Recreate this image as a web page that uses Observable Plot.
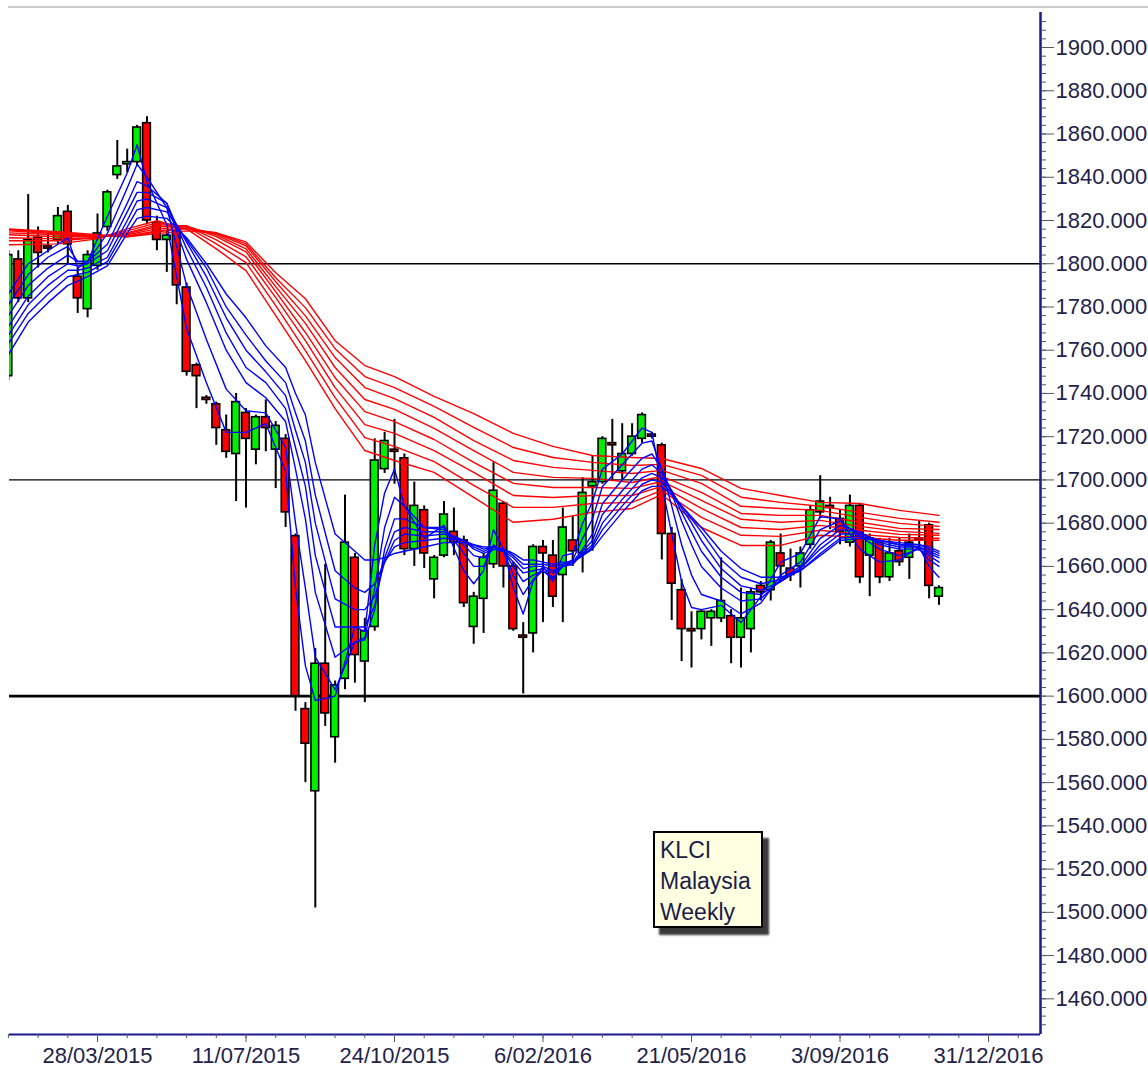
<!DOCTYPE html>
<html>
<head>
<meta charset="utf-8">
<script src="https://cdn.jsdelivr.net/npm/d3@7"></script>
<script src="https://cdn.jsdelivr.net/npm/@observablehq/plot@0.6"></script>
<style>
  html, body { margin: 0; padding: 0; background: #fff; }
  #wrap { position: relative; width: 1148px; height: 1068px; overflow: hidden;
          font-family: "Liberation Sans", Arial, sans-serif; }
  #chart { position: absolute; left: 0; top: 0; }
  #topline { position: absolute; left: 8px; right: 0; top: 6px; height: 2px; background: #cccccc; }
  #note { position: absolute; left: 653px; top: 831px; width: 110px; height: 97px; overflow: hidden;
          box-sizing: border-box; background: #ffffe1; border: 2px solid #000;
          box-shadow: 6px 7px 2px #3a3a3a; padding: 2px 0 0 5px;
          font-size: 23px; line-height: 31px; color: #1c1c48; }
</style>
</head>
<body>
<div id="wrap">
  <div id="chart"></div>
  <div id="topline"></div>
  <div id="note">KLCI<br>Malaysia<br>Weekly</div>
</div>
<script>
// ---- Weekly candles (bar index 0 = week of 24/01/2015) ----
const open  = [1748,1802,1784,1812,1808,1811,1824,1794,1779,1799,1817,1841,1846,1847,1865,1819,1811,1815,1789,1753,
               1738,1735,1723,1712,1731,1714,1729,1714,1719,1674,1594,1556,1615,1581,1608,1664,1616,1632,1705,1714,
               1710,1668,1686,1654,1665,1676,1672,1632,1645,1661,1689,1660,1628,1629,1669,1665,1656,1672,1666,1697,
               1699,1717,1704,1712,1719,1721,1716,1675,1649,1631,1631,1636,1636,1637,1627,1631,1651,1649,1666,1659,
               1660,1670,1685,1688,1682,1671,1688,1665,1671,1655,1667,1664,1673,1679,1646];
const high  = [1806,1806,1832,1817,1814,1826,1827,1798,1806,1823,1834,1857,1853,1864,1868,1822,1815,1817,1791,1754,
               1739,1736,1730,1740,1733,1730,1737,1727,1721,1675,1597,1622,1661,1607,1693,1666,1636,1719,1722,1728,
               1712,1699,1688,1665,1690,1687,1674,1648,1666,1708,1690,1662,1634,1670,1672,1672,1687,1683,1701,1711,
               1720,1728,1726,1726,1731,1722,1717,1678,1654,1639,1640,1640,1664,1640,1650,1650,1653,1672,1675,1668,
               1669,1688,1702,1692,1686,1693,1689,1675,1673,1673,1673,1675,1681,1680,1651];
const low   = [1746,1782,1782,1798,1805,1809,1800,1777,1775,1797,1815,1839,1842,1845,1818,1806,1796,1781,1748,1733,
               1735,1716,1710,1690,1687,1707,1713,1696,1678,1593,1560,1502,1586,1569,1603,1606,1597,1630,1703,1698,
               1665,1660,1659,1645,1664,1665,1641,1624,1629,1659,1650,1630,1601,1620,1634,1641,1634,1660,1657,1667,
               1698,1700,1700,1711,1717,1719,1663,1635,1616,1613,1626,1623,1634,1615,1613,1620,1644,1644,1653,1653,
               1650,1668,1682,1677,1670,1669,1652,1646,1652,1653,1660,1654,1667,1645,1642];
const close = [1804,1784,1811,1805,1807,1822,1809,1784,1804,1814,1833,1845,1847,1863,1820,1811,1813,1790,1750,1748,
               1737,1724,1713,1736,1719,1729,1724,1725,1685,1600,1578,1615,1592,1605,1671,1619,1630,1709,1718,1713,
               1668,1688,1666,1664,1684,1671,1643,1646,1664,1695,1660,1631,1627,1669,1666,1646,1678,1667,1694,1699,
               1719,1716,1712,1720,1730,1720,1675,1652,1631,1630,1639,1639,1644,1627,1636,1648,1648,1671,1660,1656,
               1666,1686,1690,1687,1676,1688,1655,1673,1655,1666,1662,1671,1672,1651,1650];

// ---- Short-term moving averages (blue), read at these bar indices ----
const blueIdx = [0,2,4,6,7,8,10,12,13,14,16,18,20,22,24,26,28,29,30,31,33,35,36,37,38,39,40,42,44,46,
                 47,48,49,50,51,52,53,54,55,56,57,58,59,60,62,64,65,66,67,68,69,70,72,74,76,78,80,82,84,86,
                 88,90,92,93,94];
const blue1 = [1786,1800,1806,1812,1798,1801,1822,1842,1855,1838,1818,1770,1745,1722,1722,1726,1704,1650,1614,1598,
               1600,1632,1630,1670,1694,1705,1688,1673,1679,1658,1652,1658,1677,1668,1650,1638,1653,1660,1653,1665,
               1666,1680,1690,1705,1712,1724,1722,1698,1675,1653,1641,1640,1642,1634,1646,1662,1666,1683,1682,1668,
               1662,1663,1669,1660,1655];
const blue2 = [1781,1795,1803,1808,1801,1801,1814,1835,1846,1840,1826,1790,1765,1742,1732,1731,1715,1680,1650,1618,
               1603,1625,1627,1650,1678,1692,1688,1678,1678,1666,1660,1660,1670,1667,1656,1647,1654,1658,1654,1661,
               1663,1673,1682,1697,1707,1717,1718,1705,1688,1670,1656,1647,1644,1638,1643,1656,1662,1677,1681,1674,
               1668,1665,1668,1663,1660];
const blue3 = [1776,1790,1798,1804,1801,1801,1809,1828,1838,1836,1828,1802,1782,1760,1745,1738,1727,1705,1682,1648,
               1618,1625,1626,1640,1668,1682,1682,1678,1677,1670,1665,1664,1668,1667,1660,1653,1656,1658,1655,1660,
               1662,1668,1675,1689,1700,1710,1712,1705,1694,1681,1670,1660,1650,1644,1645,1654,1660,1673,1679,1676,
               1670,1668,1668,1665,1662];
const blue4 = [1771,1785,1794,1800,1799,1800,1806,1824,1833,1833,1828,1807,1789,1768,1752,1745,1733,1715,1697,1665,
               1632,1632,1632,1642,1664,1676,1678,1676,1676,1672,1668,1666,1668,1667,1662,1657,1658,1659,1657,1660,
               1661,1667,1672,1684,1695,1705,1707,1703,1695,1685,1676,1667,1655,1648,1647,1653,1659,1670,1677,1676,
               1671,1669,1669,1666,1664];
const blue5 = [1767,1781,1790,1797,1797,1798,1803,1820,1829,1830,1826,1810,1794,1775,1760,1750,1739,1723,1708,1680,
               1645,1640,1640,1646,1662,1672,1675,1674,1675,1672,1669,1667,1669,1667,1664,1659,1660,1660,1658,1660,
               1661,1666,1670,1680,1691,1701,1703,1701,1695,1687,1680,1672,1659,1651,1649,1653,1659,1668,1675,1675,
               1672,1670,1669,1667,1665];
const blue6 = [1763,1777,1786,1794,1795,1796,1801,1817,1825,1826,1824,1811,1798,1780,1767,1755,1745,1731,1718,1693,
               1658,1650,1648,1652,1662,1669,1671,1672,1673,1672,1670,1668,1669,1668,1665,1661,1661,1661,1660,1661,
               1662,1665,1669,1677,1688,1698,1700,1699,1694,1688,1682,1676,1663,1655,1652,1654,1658,1666,1673,1674,
               1672,1670,1670,1668,1666];
const blue7 = [1758,1773,1782,1790,1792,1794,1799,1814,1821,1822,1821,1812,1800,1786,1775,1762,1752,1740,1730,1708,
               1675,1667,1663,1663,1664,1666,1667,1669,1671,1671,1670,1669,1669,1668,1666,1663,1663,1662,1661,1662,
               1662,1665,1668,1674,1685,1695,1697,1697,1693,1688,1683,1678,1667,1659,1655,1655,1658,1665,1672,1673,
               1672,1671,1670,1669,1667];

// ---- Long-term moving averages (red), read at these bar indices ----
const redIdx = [0,5,9,12,15,18,21,24,27,30,33,36,39,43,47,51,55,59,63,66,70,74,78,82,86,90,94];
const red1 = [1808.8,1809.2,1811.5,1816.1,1819.9,1816.1,1806.9,1796.8,1776.0,1755.2,1733.0,1713.6,1709.0,1703.5,1691.9,1680.4,1681.8,1685.0,1686.8,1693.3,1678.0,1669.7,1669.7,1674.4,1673.4,1672.1,1672.1];
const red2 = [1810.6,1810.6,1812.0,1815.2,1818.9,1817.1,1809.2,1800.5,1780.6,1759.8,1738.1,1719.6,1715.5,1708.5,1697.5,1687.3,1687.3,1689.1,1689.6,1695.2,1682.7,1674.4,1673.9,1676.7,1674.8,1673.4,1673.0];
const red3 = [1812.0,1811.5,1812.0,1814.3,1818.0,1817.5,1811.0,1803.2,1784.3,1764.4,1742.7,1725.6,1721.5,1713.6,1703.5,1692.8,1691.9,1692.8,1692.8,1697.0,1686.8,1678.0,1677.1,1679.0,1676.7,1674.8,1674.4];
const red4 = [1813.4,1812.5,1812.5,1813.9,1817.1,1817.5,1812.5,1805.5,1787.1,1768.2,1747.3,1731.6,1727.0,1718.7,1708.1,1698.4,1696.5,1696.5,1696.1,1699.3,1690.5,1681.8,1680.4,1681.3,1678.5,1676.2,1675.3];
const red5 = [1814.3,1813.4,1812.5,1813.4,1816.1,1817.1,1813.4,1806.9,1789.4,1772.4,1752.0,1737.2,1732.6,1723.8,1713.6,1703.5,1701.2,1700.7,1698.8,1701.6,1694.2,1684.5,1683.6,1683.6,1680.4,1677.6,1677.1];
const red6 = [1815.2,1813.9,1812.9,1812.9,1815.2,1816.6,1813.9,1808.3,1791.7,1775.9,1756.6,1742.7,1737.6,1728.9,1718.2,1709.0,1705.8,1704.4,1703.0,1704.4,1698.4,1687.8,1686.8,1685.9,1682.7,1679.9,1678.5];
const red7 = [1815.7,1814.3,1812.9,1812.5,1814.8,1816.1,1814.3,1809.2,1793.5,1779.7,1760.7,1747.8,1742.7,1734.0,1724.3,1715.0,1710.4,1708.1,1706.7,1707.2,1702.1,1692.0,1689.6,1687.8,1685.0,1682.2,1680.4];
const red8 = [1816.1,1814.8,1813.4,1812.5,1813.9,1815.2,1814.3,1810.1,1795.8,1783.8,1764.4,1752.9,1747.8,1738.6,1730.7,1721.5,1715.5,1711.3,1710.4,1709.9,1705.3,1696.1,1692.8,1689.6,1689.1,1685.9,1683.6];

// ---- Reference levels and axes ----
const levels = [1800, 1700, 1600];
const levelWidths = [1.3, 1.3, 2.6];
const xTickIdx = [9, 24, 39, 54, 69, 84, 99];
const xTickLabels = ["28/03/2015", "11/07/2015", "24/10/2015", "6/02/2016", "21/05/2016", "3/09/2016", "31/12/2016"];
const xMinorIdx = d3.range(0, 104, 3);
const yMajor = d3.range(1460, 1901, 20);
const yMinor = d3.range(1448, 1916, 4);
const xDomain = [0.111, 104.25];
const yDomain = [1443.5, 1916.2];

const candles = open.map((o, i) => ({i, o, h: high[i], l: low[i], c: close[i]}));
const series = (idx, vals) => idx.map((x, k) => ({x, y: vals[k]}));

const navy = "#1a1a8c";
const tickCol = "#555566";
const labelCol = "#23234a";

const chart = Plot.plot({
  width: 1148,
  height: 1068,
  marginTop: 12,
  marginBottom: 34,
  marginLeft: 9,
  marginRight: 108,
  x: {type: "linear", domain: xDomain},
  y: {type: "linear", domain: yDomain},
  color: {type: "identity"},
  style: {fontFamily: "'Liberation Sans', Arial, sans-serif", background: "transparent", overflow: "visible"},
  marks: [
    Plot.ruleY(levels, {y: d => d, stroke: "#000", strokeWidth: (d, i) => levelWidths[i]}),
    Plot.ruleX(candles, {x: "i", y1: "l", y2: "h", stroke: "#000", strokeWidth: 2, clip: true}),
    Plot.rect(candles, {
      x1: d => d.i - 0.39, x2: d => d.i + 0.39,
      y1: d => Math.min(d.o, d.c), y2: d => Math.max(d.o, d.c),
      fill: d => d.c >= d.o ? "#00ee00" : "#ff0000",
      stroke: "#000", strokeWidth: 1.6, clip: true
    }),
    ...[red1, red2, red3, red4, red5, red6, red7, red8].map(v =>
      Plot.line(series(redIdx, v), {x: "x", y: "y", stroke: "#ff0000", strokeWidth: 1.4, clip: true})),
    ...[blue1, blue2, blue3, blue4, blue5, blue6, blue7].map(v =>
      Plot.line(series(blueIdx, v), {x: "x", y: "y", stroke: "#0000ff", strokeWidth: 1.4, clip: true})),
    // axis lines
    Plot.ruleY([yDomain[0]], {stroke: navy, strokeWidth: 2}),
    Plot.ruleX([xDomain[1]], {stroke: navy, strokeWidth: 2.5}),
    // y axis (right)
    Plot.axisY({anchor: "right", ticks: yMinor, tickSize: 5, tickFormat: () => "", stroke: tickCol, label: null}),
    Plot.axisY({anchor: "right", ticks: yMajor, tickSize: 13, tickPadding: 2, tickFormat: d3.format(".3f"),
                fontSize: 22, stroke: tickCol, fill: labelCol, label: null}),
    // x axis (bottom)
    Plot.axisX({anchor: "bottom", ticks: xMinorIdx, tickSize: 4, tickFormat: () => "", stroke: tickCol, label: null}),
    Plot.axisX({anchor: "bottom", ticks: xTickIdx, tickSize: 8, tickPadding: 5,
                tickFormat: d => xTickLabels[xTickIdx.indexOf(d)],
                fontSize: 22, stroke: tickCol, fill: labelCol, label: null})
  ]
});
document.getElementById("chart").appendChild(chart);
</script>
</body>
</html>
